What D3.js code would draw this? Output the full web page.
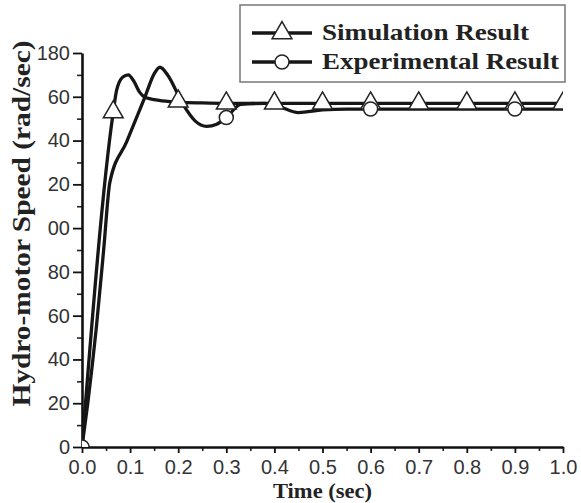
<!DOCTYPE html>
<html><head><meta charset="utf-8">
<script src="https://cdn.jsdelivr.net/npm/d3@7"></script>
<style>body{margin:0;background:#fff}svg{display:block}</style>
</head><body>
<script>
// ---- data ----
const simTime  = [0, 0.065, 0.072, 0.085, 0.096, 0.108, 0.12, 0.131, 0.16, 0.2, 0.25, 0.3, 1.0];
const simSpeed = [0, 153, 163, 169, 170, 167, 162, 159.8, 158.4, 157.6, 157.2, 157, 157];
const expTime  = [0, 0.012, 0.03, 0.045, 0.058, 0.093, 0.131, 0.15, 0.162, 0.178, 0.21, 0.235, 0.259, 0.28, 0.3, 0.33, 0.38, 0.41, 0.45, 0.5, 0.55, 1.0];
const expSpeed = [0, 20, 55, 90, 121, 139.5, 160, 170.5, 173.5, 170, 156.5, 149, 146.5, 147.5, 150.5, 156.5, 157, 155.5, 152.8, 154, 154.4, 154.4];
const simMarkerTime  = [0.065, 0.2, 0.3, 0.4, 0.5, 0.6, 0.7, 0.8, 0.9, 1.0];
const simMarkerSpeed = [153, 157.9, 157, 157, 157, 157, 157, 157, 157, 157];
const expMarkerTime  = [0, 0.3, 0.6, 0.9];
const expMarkerSpeed = [0, 150.5, 154.4, 154.4];
const xTicks = [0, 0.1, 0.2, 0.3, 0.4, 0.5, 0.6, 0.7, 0.8, 0.9, 1.0];
const xTickLabels = ["0.0","0.1","0.2","0.3","0.4","0.5","0.6","0.7","0.8","0.9","1.0"];
const yTicks = [0, 20, 40, 60, 80, 100, 120, 140, 160, 180];
const yTickLabels = ["0","20","40","60","80","00","20","40","60","180"];
const seriesNames = ["Simulation Result", "Experimental Result"];

const W = 581, H = 503;
const svg = d3.select("body").append("svg").attr("width", W).attr("height", H);
svg.append("rect").attr("width", W).attr("height", H).attr("fill", "#fff");

const x = d3.scaleLinear().domain([0, 1]).range([82, 563]);
const y = d3.scaleLinear().domain([0, 180]).range([447, 53]);

svg.append("clipPath").attr("id", "plot").append("rect")
  .attr("x", 82).attr("y", 40).attr("width", 481).attr("height", 407);

// minor ticks
const yMinor = d3.range(10, 180, 20);
const xMinor = d3.range(0.05, 1, 0.1);
svg.append("g").attr("transform", "translate(82,0)")
  .call(d3.axisLeft(y).tickValues(yMinor).tickSize(5).tickFormat(""))
  .call(g => g.select(".domain").remove())
  .call(g => g.selectAll("line").attr("stroke", "#222").attr("stroke-width", 1.6));
svg.append("g").attr("transform", "translate(0,447)")
  .call(d3.axisBottom(x).tickValues(xMinor).tickSize(4).tickFormat(""))
  .call(g => g.select(".domain").remove())
  .call(g => g.selectAll("line").attr("stroke", "#222").attr("stroke-width", 1.6));

// major axes
const yAxis = svg.append("g").attr("transform", "translate(82,0)")
  .call(d3.axisLeft(y).tickValues(yTicks).tickSize(9).tickSizeOuter(0).tickPadding(3)
    .tickFormat((d, i) => yTickLabels[i]));
const xAxis = svg.append("g").attr("transform", "translate(0,447)")
  .call(d3.axisBottom(x).tickValues(xTicks).tickSize(6).tickSizeOuter(0).tickPadding(7)
    .tickFormat((d, i) => xTickLabels[i]));
[yAxis, xAxis].forEach(g => {
  g.select(".domain").attr("stroke", "#111").attr("stroke-width", 2.6);
  g.selectAll(".tick line").attr("stroke", "#111").attr("stroke-width", 1.8);
  g.selectAll("text").attr("font-family", "Liberation Sans, Arial, sans-serif")
    .attr("font-size", 20).attr("fill", "#333");
});

// lines
const plot = svg.append("g").attr("clip-path", "url(#plot)");
const line = d3.line().x(d => x(d[0])).y(d => y(d[1])).curve(d3.curveMonotoneX);
const simData = simTime.map((t, i) => [t, simSpeed[i]]);
const expData = expTime.map((t, i) => [t, expSpeed[i]]);
plot.append("path").datum(simData).attr("d", line)
  .attr("fill", "none").attr("stroke", "#161616").attr("stroke-width", 3.3).attr("stroke-linejoin", "round");
plot.append("path").datum(expData).attr("d", line)
  .attr("fill", "none").attr("stroke", "#161616").attr("stroke-width", 3.3).attr("stroke-linejoin", "round");

const tri = d3.symbol().type(d3.symbolTriangle).size(170);
const markerStyle = s => s.attr("fill", "#fff").attr("stroke", "#222").attr("stroke-width", 1.5);

plot.selectAll(".simm").data(simMarkerTime.map((t, i) => [t, simMarkerSpeed[i]])).enter()
  .append("path").attr("d", tri)
  .attr("transform", d => `translate(${x(d[0])},${y(d[1])})`).call(markerStyle);
plot.selectAll(".expm").data(expMarkerTime.map((t, i) => [t, expMarkerSpeed[i]])).enter()
  .append("circle").attr("cx", d => x(d[0])).attr("cy", d => y(d[1])).attr("r", 7).call(markerStyle);

// axis titles
svg.append("text").attr("x", 322.5).attr("y", 498).attr("text-anchor", "middle")
  .attr("font-family", "Liberation Serif, Times New Roman, serif").attr("font-weight", "bold")
  .attr("font-size", 21).attr("fill", "#222")
  .attr("textLength", 99).attr("lengthAdjust", "spacingAndGlyphs").text("Time (sec)");
svg.append("text").attr("transform", "translate(30,223.5) rotate(-90)").attr("text-anchor", "middle")
  .attr("font-family", "Liberation Serif, Times New Roman, serif").attr("font-weight", "bold")
  .attr("font-size", 25).attr("fill", "#222")
  .attr("textLength", 366).attr("lengthAdjust", "spacingAndGlyphs")
  .text("Hydro-motor Speed (rad/sec)");

// legend
const lg = svg.append("g");
lg.append("rect").attr("x", 240).attr("y", 5).attr("width", 325).attr("height", 77)
  .attr("fill", "#fff").attr("stroke", "#777").attr("stroke-width", 1.5);
const rows = [33, 62];
const lens = [207, 237];
seriesNames.forEach((name, i) => {
  lg.append("line").attr("x1", 252).attr("x2", 312).attr("y1", rows[i]).attr("y2", rows[i])
    .attr("stroke", "#161616").attr("stroke-width", 3.3);
  if (i === 0) {
    lg.append("path").attr("d", tri).attr("transform", `translate(282,${rows[i]})`).call(markerStyle);
  } else {
    lg.append("circle").attr("cx", 282).attr("cy", rows[i]).attr("r", 7).call(markerStyle);
  }
  lg.append("text").attr("x", 322).attr("y", rows[i] + 7)
    .attr("font-family", "Liberation Serif, Times New Roman, serif").attr("font-weight", "bold")
    .attr("font-size", 24).attr("fill", "#222")
    .attr("textLength", lens[i]).attr("lengthAdjust", "spacingAndGlyphs").text(name);
});
</script>
</body></html>
